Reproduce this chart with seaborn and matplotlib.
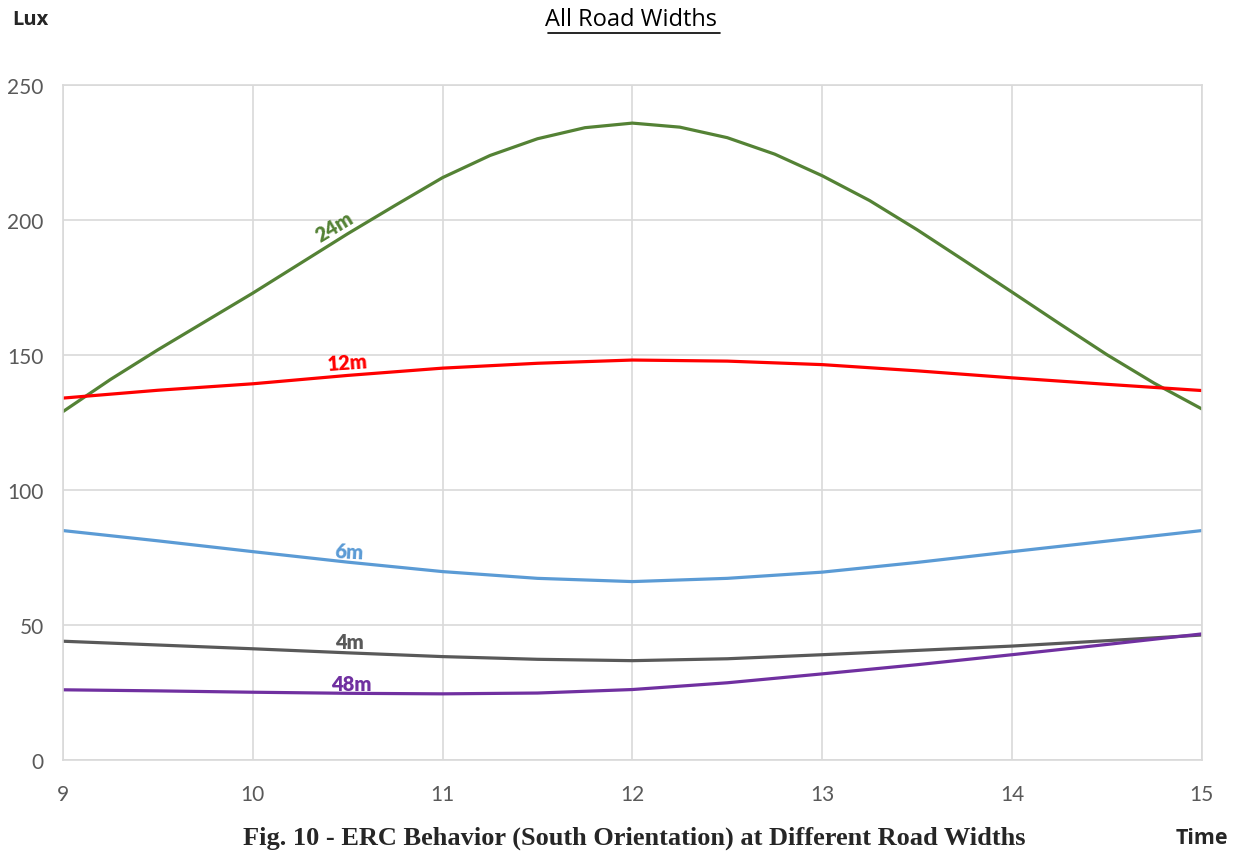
import pandas as pd
import matplotlib.pyplot as plt
import numpy as np
import seaborn as sns

# 24m curve read at quarter hours, the flatter ones at half hours
hours_q = [9, 9.25, 9.5, 9.75, 10, 10.25, 10.5, 10.75, 11, 11.25, 11.5, 11.75, 12,
           12.25, 12.5, 12.75, 13, 13.25, 13.5, 13.75, 14, 14.25, 14.5, 14.75, 15]
hours = [9, 9.5, 10, 10.5, 11, 11.5, 12, 12.5, 13, 13.5, 14, 14.5, 15]

lux_24m = [129.1, 141, 152, 162.5, 173, 184, 195, 205.5, 215.8, 224, 230.2, 234.3, 236,
           234.5, 230.6, 224.5, 216.5, 207.3, 196.5, 185, 173.4, 161.7, 150.2, 139.6, 130.1]
lux_12m = [134.1, 137, 139.4, 142.5, 145.2, 147, 148.2, 147.8, 146.5, 144.2, 141.6, 139.2, 136.9]
lux_6m = [85, 81.2, 77.2, 73.3, 69.8, 67.3, 66.1, 67.3, 69.6, 73.2, 77.2, 81.1, 85]
lux_4m = [44, 42.6, 41.2, 39.7, 38.3, 37.3, 36.8, 37.5, 39, 40.6, 42.2, 44.2, 46.3]
lux_48m = [26, 25.6, 25.1, 24.7, 24.5, 24.8, 26.1, 28.6, 31.9, 35.3, 39, 42.8, 46.7]

colors = {'24m': '#548235', '12m': '#FF0000', '6m': '#5B9BD5',
          '4m': '#595959', '48m': '#7030A0'}

df = pd.concat([
    pd.DataFrame({'Time': hours_q, 'Lux': lux_24m, 'Width': '24m'}),
    pd.DataFrame({'Time': hours, 'Lux': lux_12m, 'Width': '12m'}),
    pd.DataFrame({'Time': hours, 'Lux': lux_6m, 'Width': '6m'}),
    pd.DataFrame({'Time': hours, 'Lux': lux_4m, 'Width': '4m'}),
    pd.DataFrame({'Time': hours, 'Lux': lux_48m, 'Width': '48m'}),
])

sns.set_style('white')
plt.rcParams['font.family'] = ['Lato', 'DejaVu Sans']

fig = plt.figure(figsize=(12.43, 8.53), dpi=100)
ax = fig.add_axes([0.0507, 0.1079, 0.9161, 0.7909])

sns.lineplot(data=df, x='Time', y='Lux', hue='Width', palette=colors,
             linewidth=2.3, legend=False, ax=ax, sort=False)

ax.set_xlim(9, 15)
ax.set_ylim(0, 250)
ax.set_xticks(range(9, 16))
ax.set_yticks(range(0, 251, 50))
ax.grid(True, color='#D9D9D9', linewidth=1.2)
ax.set_axisbelow(True)
for s in ax.spines.values():
    s.set_color('#D9D9D9')
    s.set_linewidth(1.2)
ax.tick_params(length=0, labelsize=15, colors='#595959')
ax.tick_params(axis='x', pad=17)
ax.tick_params(axis='y', pad=14)
ax.set_xlabel('')
ax.set_ylabel('')

# inline series labels
lab = [('24m', 10.43, 198, 31), ('12m', 10.5, 147.6, 4),
       ('6m', 10.51, 77.5, -3), ('4m', 10.51, 43.8, 0), ('48m', 10.52, 28.4, 0)]
for name, x, y, rot in lab:
    ax.text(x, y, name, color=colors[name], fontsize=14.5, fontweight='heavy',
            ha='center', va='center', rotation=rot, rotation_mode='anchor')

fig.text(0.508, 0.976, 'All Road Widths', ha='center', va='center',
         fontsize=17, color='#000000', fontfamily='Open Sans')
fig.add_artist(plt.Line2D([0.4405, 0.579], [0.9605, 0.9605], color='black', linewidth=1.2))
fig.text(0.0095, 0.976, 'Lux', ha='left', va='center', fontsize=14.5,
         fontweight='bold', fontfamily='Open Sans')
fig.text(0.967, 0.017, 'Time', ha='center', va='center', fontsize=15.5,
         fontweight='bold', fontfamily='Open Sans')
fig.text(0.510, 0.017, 'Fig. 10 - ERC Behavior (South Orientation) at Different Road Widths',
         ha='center', va='center', fontsize=19, fontweight='bold',
         fontfamily='Liberation Serif')

plt.savefig('out.png', dpi=100)
